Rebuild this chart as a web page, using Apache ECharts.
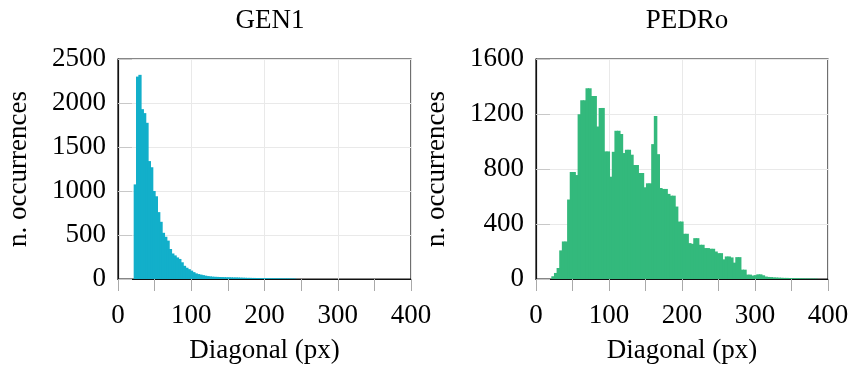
<!DOCTYPE html>
<html>
<head>
<meta charset="utf-8">
<script src="https://cdn.jsdelivr.net/npm/echarts@6/dist/echarts.min.js"></script>
<style>
html,body{margin:0;padding:0;background:#fff;}
#chart{width:852px;height:374px;}
</style>
</head>
<body>
<div id="chart"></div>
<script>
// ---- data ----
const titles = ['GEN1', 'PEDRo'];
const xTicks = [0, 100, 200, 300, 400];
const yTicksGen1 = [0, 500, 1000, 1500, 2000, 2500];
const yTicksPedro = [0, 400, 800, 1200, 1600];

// histogram bins: first edge and width (px of diagonal)
const gen1BinStart = 21.4;
const gen1BinWidth = 3.2;
const gen1Counts = [1075, 2300, 2320, 1930, 1885, 1775, 1340, 1270, 1000, 940,
  760, 650, 525, 480, 436, 341, 290, 268, 245, 228,
  190, 150, 128, 112, 95, 78, 64, 56, 50, 44,
  38, 33, 30, 27, 25, 24, 23, 22, 21, 20,
  20, 19, 18, 18, 17, 16, 15, 14, 13, 13,
  12, 12, 11, 11, 10, 10, 10, 9, 9, 9,
  8, 8, 8, 7, 7, 7, 6, 6, 5];

const pedroBinStart = 21;
const pedroBinWidth = 3.6;
const pedroCounts = [20, 44, 80, 208, 273, 273, 578, 778, 778, 756,
  1198, 1300, 1300, 1387, 1387, 1331, 1331, 1109, 1244, 1244,
  928, 928, 744, 925, 1078, 1078, 1054, 916, 940, 940,
  904, 829, 829, 771, 771, 667, 696, 696, 981, 1186,
  908, 662, 655, 655, 619, 606, 606, 527, 418, 418,
  329, 329, 261, 256, 297, 297, 249, 249, 225, 225,
  220, 220, 200, 188, 188, 143, 164, 164, 157, 119,
  159, 159, 68, 68, 32, 32, 25, 28, 34, 34,
  27, 18, 15, 14, 12, 11, 10, 9, 8, 8,
  7, 7, 6, 6, 5, 5, 4, 4, 3, 3, 3];

const colors = ['#12AFCA', '#33B97C'];

// ---- build ----
function toBins(start, width, counts) {
  return counts.map((c, i) => [start + i * width, start + (i + 1) * width, c]);
}
const FONT = 'Liberation Serif';
const FS = 27;

function renderHist(color) {
  return function (params, api) {
    const x0 = api.value(0), x1 = api.value(1), v = api.value(2);
    const p0 = api.coord([x0, v]);
    const p1 = api.coord([x1, 0]);
    return {
      type: 'rect',
      shape: { x: p0[0], y: p0[1], width: p1[0] - p0[0] + 0.9, height: p1[1] - p0[1] },
      style: { fill: color }
    };
  };
}

const grids = [
  { left: 118, top: 59, width: 293, height: 220 },
  { left: 536, top: 59, width: 292, height: 220 }
];

function xAxisFor(idx) {
  return {
    type: 'value', gridIndex: idx,
    min: xTicks[0], max: xTicks[xTicks.length - 1], interval: 100,
    name: 'Diagonal (px)', nameLocation: 'middle', nameGap: 58,
    nameTextStyle: { fontFamily: FONT, fontSize: FS, color: '#000' },
    axisLine: { show: true, lineStyle: { color: '#111', width: 1.2 } },
    axisTick: { show: true, inside: false, length: 12, lineStyle: { color: '#aaa', width: 1 } },
    minorTick: { show: true, splitNumber: 2, length: 12, lineStyle: { color: '#aaa', width: 1 } },
    axisLabel: { fontFamily: FONT, fontSize: FS, color: '#000', margin: 23 },
    splitLine: { show: true, lineStyle: { color: '#e9e9e9', width: 1 } }
  };
}
function yAxisFor(idx, ticks) {
  return {
    type: 'value', gridIndex: idx,
    min: ticks[0], max: ticks[ticks.length - 1], interval: ticks[1] - ticks[0],
    name: 'n. occurrences', nameLocation: 'middle', nameGap: 86, nameRotate: 90,
    nameTextStyle: { fontFamily: FONT, fontSize: FS, color: '#000' },
    axisLine: { show: true, lineStyle: { color: '#111', width: 1.2 } },
    axisTick: { show: true, inside: true, length: 14, lineStyle: { color: '#c8c8c8', width: 1 } },
    axisLabel: { fontFamily: FONT, fontSize: FS, color: '#000', margin: 12,
      formatter: v => String(v) },
    splitLine: { show: true, lineStyle: { color: '#e9e9e9', width: 1 } }
  };
}

const option = {
  backgroundColor: '#fff',
  animation: false,
  title: [
    { text: titles[0], left: 265, top: 2, textAlign: 'center',
      textStyle: { fontFamily: FONT, fontSize: FS, fontWeight: 'normal', color: '#000' } },
    { text: titles[1], left: 682, top: 2, textAlign: 'center',
      textStyle: { fontFamily: FONT, fontSize: FS, fontWeight: 'normal', color: '#000' } }
  ],
  grid: grids.map(g => Object.assign({ show: true, borderColor: '#111', borderWidth: 1.2, backgroundColor: 'transparent' }, g)),
  xAxis: [xAxisFor(0), xAxisFor(1)],
  yAxis: [yAxisFor(0, yTicksGen1), yAxisFor(1, yTicksPedro)],
  series: [
    { type: 'custom', xAxisIndex: 0, yAxisIndex: 0, renderItem: renderHist(colors[0]),
      encode: { x: [0, 1], y: 2 }, data: toBins(gen1BinStart, gen1BinWidth, gen1Counts) },
    { type: 'custom', xAxisIndex: 1, yAxisIndex: 1, renderItem: renderHist(colors[1]),
      encode: { x: [0, 1], y: 2 }, data: toBins(pedroBinStart, pedroBinWidth, pedroCounts) }
  ]
};
const chart = echarts.init(document.getElementById('chart'), null, { renderer: 'canvas' });
chart.setOption(option);
</script>
</body>
</html>
